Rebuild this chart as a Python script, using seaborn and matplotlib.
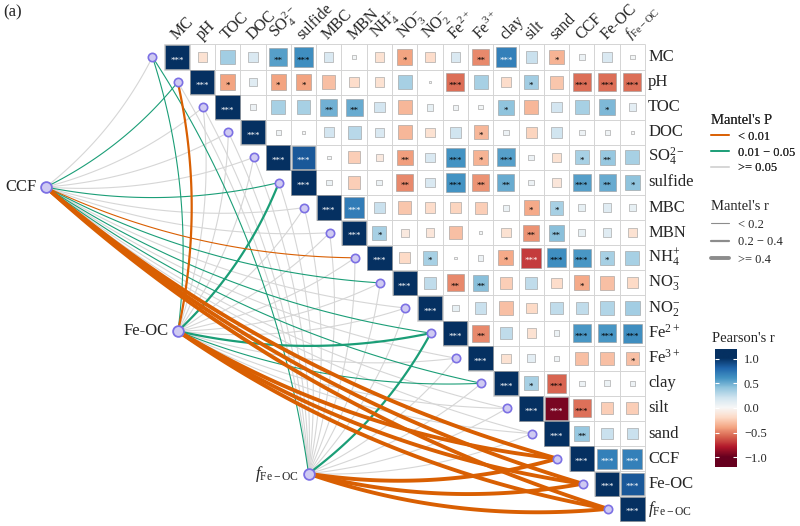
import numpy as np
import pandas as pd
import matplotlib
matplotlib.use('Agg')
import matplotlib.pyplot as plt
import seaborn as sns
from matplotlib.lines import Line2D

# Variables of the correlation matrix (rows = columns, same order)
variables = ['MC', 'pH', 'TOC', 'DOC', 'SO4', 'sulfide', 'MBC', 'MBN', 'NH4', 'NO3',
             'NO2', 'Fe2+', 'Fe3+', 'clay', 'silt', 'sand', 'CCF', 'Fe-OC', 'fFe-OC']
labels = ['MC', 'pH', 'TOC', 'DOC', r'SO$_4^{2-}$', 'sulfide', 'MBC', 'MBN', r'NH$_4^{+}$',
          r'NO$_3^{-}$', r'NO$_2^{-}$', r'Fe$^{2+}$', r'Fe$^{3+}$', 'clay', 'silt', 'sand',
          'CCF', 'Fe-OC', r'$\it{f}$$_{\rm Fe-OC}$']

# Pearson's r, upper triangle, each row starts at the diagonal
r_rows = [
    [1, -0.15, 0.35, 0.15, 0.55, 0.62, 0.15, 0.03, -0.15, -0.40, -0.18, 0.15, -0.48, 0.68, 0.22, -0.35, 0.06, 0.15, 0.03],
    [1, -0.40, 0.12, -0.40, -0.40, -0.30, -0.18, -0.15, 0.33, 0.01, -0.56, 0.33, -0.18, 0.35, -0.28, -0.56, -0.56, -0.56],
    [1, 0.05, 0.33, 0.33, 0.48, 0.50, 0.18, -0.33, 0.08, 0.04, 0.03, 0.40, -0.33, 0.18, 0.33, 0.45, 0.10],
    [1, 0.04, 0.01, 0.18, 0.28, 0.15, -0.33, -0.15, 0.20, -0.33, 0.05, -0.22, 0.20, 0.05, 0.04, 0.01],
    [1, 0.85, 0.02, -0.25, -0.10, -0.42, 0.15, 0.60, -0.35, 0.55, 0.05, -0.15, 0.33, 0.38, 0.33],
    [1, 0.06, -0.25, 0.06, -0.48, 0.15, 0.60, -0.45, 0.50, 0.05, -0.12, 0.55, 0.50, 0.40],
    [1, 0.70, 0.22, -0.28, -0.18, -0.22, -0.25, 0.06, -0.38, 0.33, 0.08, 0.12, 0.08],
    [1, 0.33, -0.10, -0.12, -0.30, 0.02, -0.15, -0.45, 0.42, 0.08, 0.12, -0.15],
    [1, -0.20, 0.33, 0.01, 0.05, -0.38, -0.70, 0.62, 0.58, 0.33, 0.33],
    [1, 0.25, -0.48, 0.42, -0.25, 0.25, -0.18, -0.38, -0.30, -0.20],
    [1, 0.08, 0.22, -0.30, -0.20, 0.25, 0.25, 0.30, 0.35],
    [1, -0.48, 0.25, -0.15, 0.06, 0.58, 0.58, 0.62],
    [1, -0.15, 0.10, 0.04, -0.30, -0.30, -0.30],
    [1, 0.33, -0.58, 0.05, 0.06, 0.05],
    [1, -0.95, -0.55, -0.25, -0.25],
    [1, 0.38, 0.22, 0.22],
    [1, 0.68, 0.68],
    [1, 0.85],
    [1],
]
star_rows = [
    ['***', '', '', '', '**', '***', '', '', '', '*', '', '', '**', '***', '', '*', '', '', ''],
    ['***', '*', '', '*', '*', '', '', '', '', '', '***', '', '', '*', '', '***', '***', '***'],
    ['***', '', '', '', '**', '**', '', '', '', '', '', '*', '', '', '', '*', ''],
    ['***', '', '', '', '', '', '', '', '', '*', '', '', '', '', '', ''],
    ['***', '***', '', '', '', '**', '', '***', '*', '***', '', '', '*', '**', ''],
    ['***', '', '', '', '**', '', '***', '**', '**', '', '', '***', '**', '*'],
    ['***', '***', '', '', '', '', '', '', '*', '*', '', '', ''],
    ['***', '*', '', '', '', '', '', '**', '**', '', '', ''],
    ['***', '', '*', '', '', '*', '***', '***', '***', '*', ''],
    ['***', '', '**', '**', '', '', '', '*', '', ''],
    ['***', '', '', '', '', '', '', '', ''],
    ['***', '**', '', '', '', '***', '***', '***'],
    ['***', '', '', '', '', '', '*'],
    ['***', '*', '***', '', '', ''],
    ['***', '***', '***', '', ''],
    ['***', '**', '', ''],
    ['***', '***', '***'],
    ['***', '***'],
    ['***'],
]

# Mantel test of the three response variables against every variable
mantel_sources = ['CCF', 'Fe-OC', 'fFe-OC']
mantel_source_labels = ['CCF', 'Fe-OC', r'$\it{f}$$_{\rm Fe-OC}$']
mantel_r_ccf = [0.12, 0.15, 0.06, 0.04, 0.09, 0.17, 0.05, 0.04, 0.18, 0.16, 0.05, 0.17, 0.07, 0.16, 0.10, 0.08, 0.92, 0.62, 0.58]
mantel_p_ccf = [0.12, 0.03, 0.45, 0.62, 0.20, 0.02, 0.51, 0.58, 0.008, 0.03, 0.49, 0.02, 0.33, 0.03, 0.15, 0.22, 0.001, 0.001, 0.001]
mantel_r_feoc = [0.16, 0.26, 0.06, 0.03, 0.10, 0.24, 0.05, 0.07, 0.09, 0.08, 0.04, 0.30, 0.11, 0.15, 0.06, 0.05, 0.62, 0.90, 0.75]
mantel_p_feoc = [0.04, 0.006, 0.42, 0.70, 0.11, 0.02, 0.55, 0.30, 0.20, 0.24, 0.61, 0.012, 0.18, 0.03, 0.36, 0.47, 0.001, 0.001, 0.001]
mantel_r_ffeoc = [0.15, 0.12, 0.05, 0.04, 0.08, 0.11, 0.06, 0.05, 0.10, 0.07, 0.06, 0.28, 0.09, 0.07, 0.05, 0.04, 0.58, 0.75, 0.92]
mantel_p_ffeoc = [0.04, 0.09, 0.50, 0.60, 0.25, 0.14, 0.48, 0.55, 0.17, 0.30, 0.50, 0.015, 0.26, 0.31, 0.52, 0.60, 0.001, 0.001, 0.001]

p_labels = ['< 0.01', '0.01 \u2212 0.05', '>= 0.05']
r_labels = ['< 0.2', '0.2 \u2212 0.4', '>= 0.4']
p_colors = dict(zip(p_labels, ['#D95F02', '#1B9E77', '#D6D6D6']))
r_widths = dict(zip(r_labels, [0.8, 1.6, 2.8]))

sns.set_style('white')
plt.rcParams['font.family'] = ['Liberation Serif', 'DejaVu Serif']
plt.rcParams['mathtext.fontset'] = 'custom'
plt.rcParams['mathtext.rm'] = 'Liberation Serif'
plt.rcParams['mathtext.it'] = 'Liberation Serif:italic'
plt.rcParams['mathtext.bf'] = 'Liberation Serif:bold'

# Long table of the matrix cells
cells = []
for i, (rr, ss) in enumerate(zip(r_rows, star_rows)):
    for k, (r, s) in enumerate(zip(rr, ss)):
        cells.append({'row': i, 'col': i + k, 'r': r, 'absr': abs(r), 'stars': s})
cells = pd.DataFrame(cells)

# Mantel table
mantel = []
for src, rs, ps in zip(mantel_sources,
                       [mantel_r_ccf, mantel_r_feoc, mantel_r_ffeoc],
                       [mantel_p_ccf, mantel_p_feoc, mantel_p_ffeoc]):
    for j, (r, p) in enumerate(zip(rs, ps)):
        mantel.append({'source': src, 'target': j, 'r': r, 'p': p})
mantel = pd.DataFrame(mantel)
mantel['p_class'] = pd.cut(mantel['p'], [0, 0.01, 0.05, 1.01], right=False, labels=p_labels)
mantel['r_class'] = pd.cut(mantel['r'], [-1, 0.2, 0.4, 1.01], right=False, labels=r_labels)

# Layout (cell units): column/row centres of the matrix
CX, CY = 25.3, 25.1      # pixel size of one cell
X0, Y0 = 177, 57         # pixel centre of the first cell
W, H = 800, 526
src_pos = {'CCF': (-5.18, 5.18), 'Fe-OC': (0.04, 10.92), 'fFe-OC': (5.2, 16.6)}
tgt_pos = {j: (j - 0.97, j) for j in range(len(variables))}

fig = plt.figure(figsize=(8, 5.26), dpi=100)
ax = fig.add_axes([0, 0, 1, 1])


def curve(p0, p1, k=0.11, n=60):
    p0 = np.array(p0, float)
    p1 = np.array(p1, float)
    d = p1 - p0
    ctrl = (p0 + p1) / 2 + k * np.array([-d[1], d[0]])
    t = np.linspace(0, 1, n)[:, None]
    return (1 - t) ** 2 * p0 + 2 * (1 - t) * t * ctrl + t ** 2 * p1


# Mantel links: grey first, coloured on top
for cls, z in zip(['>= 0.05', '0.01 \u2212 0.05', '< 0.01'], [1.2, 1.4, 1.6]):
    sub = mantel[mantel['p_class'] == cls]
    for _, m in sub.iterrows():
        pts = curve(src_pos[m['source']], tgt_pos[m['target']])
        ax.plot(pts[:, 0], pts[:, 1], color=p_colors[cls],
                lw=r_widths[m['r_class']], solid_capstyle='round', zorder=z)

# grid of the upper triangle
n = len(variables)
hy = np.arange(n + 1) - 0.5
ax.hlines(hy, [max(k - 1, 0) - 0.5 for k in range(n + 1)], n - 0.5,
          color='#d4d4d4', lw=0.7, zorder=2)
ax.vlines(hy, -0.5, [min(k, n - 1) + 0.5 for k in range(n + 1)],
          color='#d4d4d4', lw=0.7, zorder=2)

# squares: area ~ |r|, colour ~ r
cell_pt = min(CX, CY) * 0.72
sns.scatterplot(data=cells, x='col', y='row', hue='r', hue_norm=(-1, 1), palette='RdBu',
                size='absr', size_norm=(0, 1), sizes=(0, (cell_pt - 0.6) ** 2), marker='s',
                edgecolor='#9a9a9a', linewidth=0.4, legend=False, ax=ax, zorder=3)

for _, c in cells.iterrows():
    if c['stars']:
        ax.text(c['col'], c['row'] + 0.22, c['stars'], ha='center', va='baseline', fontsize=6.5,
                color='white' if c['absr'] >= 0.65 else 'black', zorder=4)

# nodes
tgt = pd.DataFrame([{'x': p[0], 'y': p[1]} for p in tgt_pos.values()])
src = pd.DataFrame([{'x': p[0], 'y': p[1]} for p in src_pos.values()])
sns.scatterplot(data=tgt, x='x', y='y', s=36, color='#cfcaf2', edgecolor='#7c70e4',
                linewidth=1.2, legend=False, ax=ax, zorder=5)
sns.scatterplot(data=src, x='x', y='y', s=60, color='#cfcaf2', edgecolor='#7c70e4',
                linewidth=1.3, legend=False, ax=ax, zorder=5)

# labels
for j, lab in enumerate(labels):
    ax.text(j + 0.08, -0.55, lab, rotation=45, ha='left', va='bottom',
            rotation_mode='anchor', fontsize=11 if j == n - 1 else 11.5)
    ax.text(n - 0.38, j, lab, ha='left', va='center', fontsize=12)
for s, lab in zip(mantel_sources, mantel_source_labels):
    x, y = src_pos[s]
    ax.text(x - 0.38, y, lab, ha='right', va='center', fontsize=12)
ax.text(-6.88, -1.79, '(a)', ha='left', va='center', fontsize=12)

ax.set_xlim(-X0 / CX, (W - X0) / CX)
ax.set_ylim((H - Y0) / CY, -Y0 / CY)
ax.axis('off')

# legends
p_handles = [Line2D([], [], color=p_colors[l], lw=1.2) for l in p_labels]
leg1 = fig.legend(p_handles, p_labels, title="Mantel's P", loc='upper left',
                  bbox_to_anchor=(711 / W, 1 - 114 / H), frameon=False, fontsize=9,
                  title_fontsize=10.5, handlelength=1.4, handletextpad=0.8,
                  labelspacing=0.3, borderpad=0, borderaxespad=0, alignment='left')
r_handles = [Line2D([], [], color='#8c8c8c', lw=r_widths[l]) for l in r_labels]
leg2 = fig.legend(r_handles, r_labels, title="Mantel's r", loc='upper left',
                  bbox_to_anchor=(711 / W, 1 - 200 / H), frameon=False, fontsize=9,
                  title_fontsize=10.5, handlelength=1.4, handletextpad=0.8,
                  labelspacing=0.45, borderpad=0, borderaxespad=0, alignment='left')
fig.add_artist(leg1)

# Pearson's r colour bar
cax = fig.add_axes([715 / W, 1 - 467 / H, 22 / W, 118 / H])
grad = np.linspace(-1.2, 1.2, 300)[:, None]
cax.imshow(grad, aspect='auto', cmap='RdBu', vmin=-1, vmax=1, origin='lower',
           extent=[0, 1, -1.2, 1.2])
ticks = [-1, -0.5, 0, 0.5, 1]
cax.hlines(ticks, 0, 0.2, color='white', lw=0.8)
cax.hlines(ticks, 0.8, 1, color='white', lw=0.8)
cax.set_xlim(0, 1)
cax.set_ylim(-1.2, 1.2)
cax.set_xticks([])
cax.yaxis.tick_right()
cax.set_yticks(ticks)
cax.set_yticklabels([f'{t:.1f}'.replace('-', '\u2212') for t in ticks], fontsize=9)
cax.tick_params(axis='y', length=0, pad=5)
for sp in cax.spines.values():
    sp.set_visible(False)
fig.text(712 / W, 1 - 338 / H, "Pearson's r", ha='left', va='center', fontsize=10.5)

fig.savefig('out.png', dpi=100)
